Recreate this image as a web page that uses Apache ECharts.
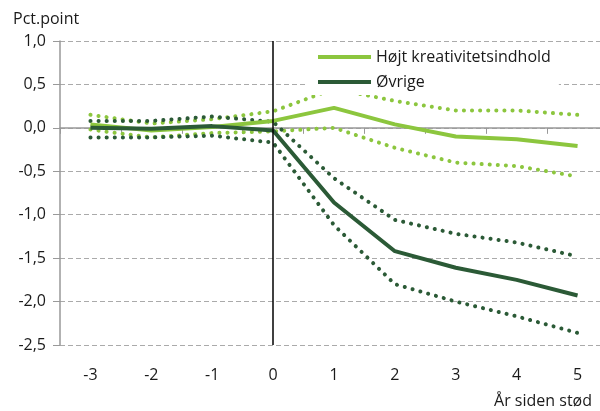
<!DOCTYPE html>
<html>
<head>
<meta charset="utf-8">
<script src="https://cdn.jsdelivr.net/npm/echarts@6/dist/echarts.min.js"></script>
<style>
  html, body { margin: 0; padding: 0; background: #fff; }
  #chart { width: 600px; height: 411px; }
</style>
</head>
<body>
<div id="chart"></div>
<script>
const years = ['-3', '-2', '-1', '0', '1', '2', '3', '4', '5']
const kreativ = [0.04, -0.03, 0.01, 0.08, 0.23, 0.04, -0.10, -0.13, -0.21]
const kreativUpper = [0.15, 0.05, 0.10, 0.19, 0.45, 0.31, 0.20, 0.20, 0.15]
const kreativLower = [-0.02, -0.11, -0.06, -0.04, 0.00, -0.23, -0.40, -0.44, -0.56]
const ovrige = [0.00, -0.01, 0.02, -0.03, -0.86, -1.42, -1.61, -1.75, -1.93]
const ovrigeUpper = [0.08, 0.08, 0.13, 0.07, -0.58, -1.06, -1.22, -1.32, -1.48]
const ovrigeLower = [-0.11, -0.11, -0.09, -0.17, -1.12, -1.80, -2.00, -2.17, -2.36]

const light = '#8cc63e'
const dark = '#2b5a36'
const font = 'Open Sans'
const txt = '#1a1a1a'

function mainLine (name, data, color) {
  return {
    name: name,
    type: 'line',
    data: data,
    symbol: 'none',
    lineStyle: { color: color, width: 4 },
    itemStyle: { color: color },
    z: 3
  }
}
function band (data, color) {
  return {
    type: 'line',
    data: data,
    symbol: 'none',
    silent: true,
    lineStyle: { color: color, width: 4, type: [0.1, 8], cap: 'round' },
    z: 2
  }
}

let chart = echarts.init(document.getElementById('chart'))
chart.setOption({
  animation: false,
  title: [
    { text: 'Pct.point', left: 8, top: 6, textStyle: { fontFamily: font, fontSize: 16, fontWeight: 'normal', color: txt } },
    { text: 'År siden stød', right: 3, top: 388, textStyle: { fontFamily: font, fontSize: 16, fontWeight: 'normal', color: txt } }
  ],
  grid: { left: 60, right: -8, top: 41, bottom: 66, outerBoundsMode: 'none', containLabel: false },
  legend: {
    data: ['Højt kreativitetsindhold', 'Øvrige'],
    orient: 'vertical',
    left: 306,
    top: 45,
    padding: [2, 8, 3, 12],
    backgroundColor: '#fff',
    itemWidth: 53,
    itemHeight: 4,
    itemGap: 5,
    icon: 'rect',
    textStyle: { fontFamily: font, fontSize: 16, color: txt, lineHeight: 20 },
    z: 10
  },
  xAxis: [
    {
      type: 'category',
      data: years,
      axisLine: { onZero: true, lineStyle: { color: '#999', width: 1.5 } },
      axisTick: { show: true, length: 6, lineStyle: { color: '#999' } },
      axisLabel: { show: false },
      splitLine: { show: false }
    },
    {
      type: 'category',
      data: years,
      position: 'bottom',
      axisLine: { show: false, onZero: false },
      axisTick: { show: false },
      axisLabel: { fontFamily: font, fontSize: 16, color: txt, margin: 22 }
    }
  ],
  yAxis: {
    type: 'value',
    min: -2.5,
    max: 1,
    interval: 0.5,
    axisLine: { show: true, lineStyle: { color: '#999', width: 1.5 } },
    axisTick: { show: true, length: 7, lineStyle: { color: '#999' } },
    axisLabel: {
      fontFamily: font, fontSize: 16, color: txt, margin: 14,
      formatter: v => v.toFixed(1).replace('.', ',')
    },
    splitLine: { lineStyle: { color: '#aaa', type: [5, 3] } }
  },
  series: [
    band(kreativUpper, light),
    band(kreativLower, light),
    mainLine('Højt kreativitetsindhold', kreativ, light),
    band(ovrigeUpper, dark),
    band(ovrigeLower, dark),
    Object.assign(mainLine('Øvrige', ovrige, dark), {
      markLine: {
        silent: true,
        symbol: 'none',
        label: { show: false },
        lineStyle: { color: '#000', width: 1.5, type: 'solid' },
        data: [{ xAxis: '0' }]
      }
    })
  ]
})
</script>
</body>
</html>
